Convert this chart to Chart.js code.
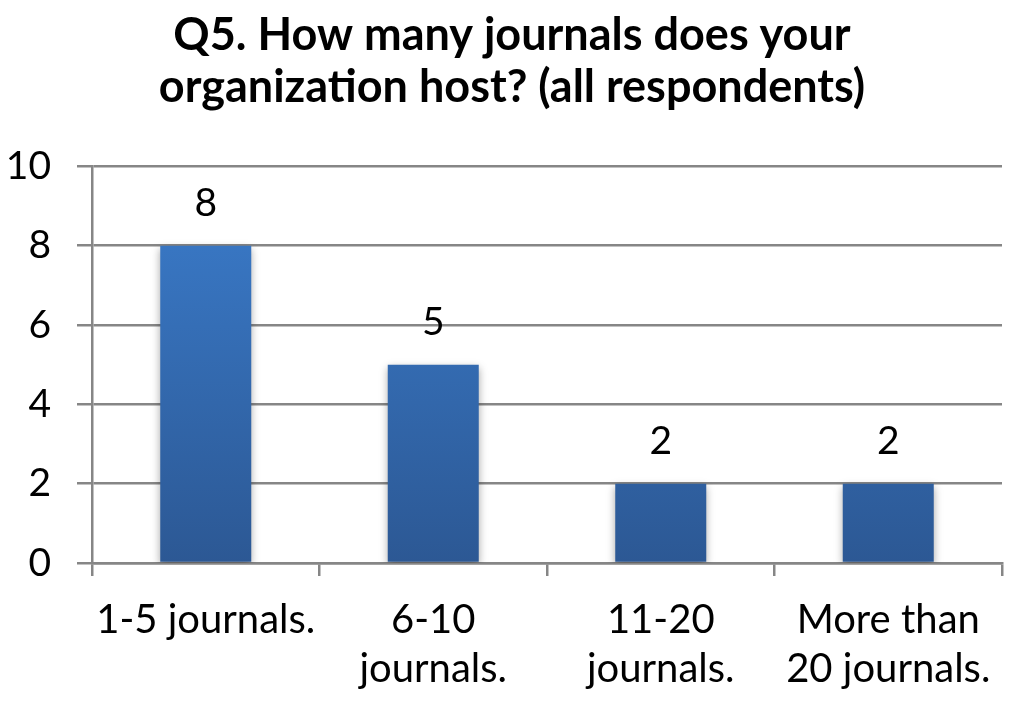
<!DOCTYPE html>
<html>
<head>
<meta charset="utf-8">
<script src="https://cdn.jsdelivr.net/npm/chart.js@4.4.1/dist/chart.umd.min.js"></script>
<style>
html,body{margin:0;padding:0;background:#fff;}
#wrap{width:1024px;height:707px;position:relative;}
</style>
</head>
<body>
<div id="wrap"><canvas id="c" width="1024" height="707"></canvas></div>
<script>
const titleLines = ["Q5. How many journals does your", "organization host? (all respondents)"];
const categories = [["1-5 journals."], ["6-10", "journals."], ["11-20", "journals."], ["More than", "20 journals."]];
const values = [8, 5, 2, 2];
const yTicks = [0, 2, 4, 6, 8, 10];

const FONT = "Lato, 'Open Sans', sans-serif";

const barLabels = {
  id: 'barLabels',
  afterDatasetsDraw(chart) {
    const ctx = chart.ctx;
    const meta = chart.getDatasetMeta(0);
    ctx.save();
    ctx.fillStyle = '#000';
    ctx.font = '39px ' + FONT;
    ctx.textAlign = 'center';
    ctx.textBaseline = 'alphabetic';
    meta.data.forEach((bar, i) => {
      ctx.fillText(String(values[i]), bar.x, bar.y - 30);
    });
    ctx.restore();
  }
};

const barShadow = {
  id: 'barShadow',
  beforeDatasetDraw(chart) {
    const ctx = chart.ctx;
    ctx.save();
    ctx.shadowColor = 'rgba(0,0,0,0.35)';
    ctx.shadowBlur = 8;
    ctx.shadowOffsetX = 0;
    ctx.shadowOffsetY = 3;
  },
  afterDatasetDraw(chart) {
    chart.ctx.restore();
  }
};

// centre the title across the whole canvas width
const titleCentre = {
  id: 'titleCentre',
  afterLayout(chart) {
    const t = chart.titleBlock;
    if (t) { t.left = 0; t.right = chart.width; t.width = chart.width; }
  }
};

function barGradient(context) {
  const chart = context.chart;
  const area = chart.chartArea;
  if (!area) return '#3a7bcb';
  const el = context.element;
  const ctx = chart.ctx;
  let top = area.top, bottom = area.bottom;
  if (el && el.y !== undefined && el.base !== undefined) { top = el.y; bottom = el.base; }
  const g = ctx.createLinearGradient(0, top, 0, bottom);
  g.addColorStop(0, '#3b7dcd');
  g.addColorStop(1, '#2c5894');
  return g;
}

new Chart(document.getElementById('c'), {
  type: 'bar',
  data: {
    labels: categories,
    datasets: [{
      data: values,
      backgroundColor: barGradient,
      borderWidth: 0,
      categoryPercentage: 1.0,
      barPercentage: 0.4
    }]
  },
  plugins: [barShadow, barLabels, titleCentre],
  options: {
    responsive: false,
    animation: false,
    devicePixelRatio: 1,
    layout: { padding: { left: 0, right: 22, top: 0, bottom: 0 } },
    plugins: {
      legend: { display: false },
      tooltip: { enabled: false },
      title: {
        display: true,
        text: titleLines,
        color: '#000',
        font: { family: FONT, size: 45, weight: 'bold', lineHeight: 1.16 },
        padding: { top: 9, bottom: 53 }
      }
    },
    scales: {
      x: {
        grid: {
          display: true,
          drawOnChartArea: false,
          drawTicks: true,
          tickLength: 13,
          color: '#868686',
          lineWidth: 2.5,
          offset: true
        },
        border: { display: true, color: '#868686', width: 2.5 },
        ticks: {
          color: '#000',
          font: { family: FONT, size: 40, lineHeight: 1.22 },
          padding: 20,
          maxRotation: 0,
          autoSkip: false
        },
        afterFit(s) { s.height = 144; }
      },
      y: {
        min: 0,
        max: 10,
        afterBuildTicks(s) { s.ticks = yTicks.map(v => ({ value: v })); },
        grid: {
          color: '#868686',
          lineWidth: 2.5,
          drawTicks: true,
          tickLength: 15
        },
        border: { display: true, color: '#868686', width: 2.5 },
        ticks: {
          color: '#000',
          font: { family: FONT, size: 39 },
          padding: 26
        },
        afterFit(s) { s.width = 92; }
      }
    }
  }
});
</script>
</body>
</html>
